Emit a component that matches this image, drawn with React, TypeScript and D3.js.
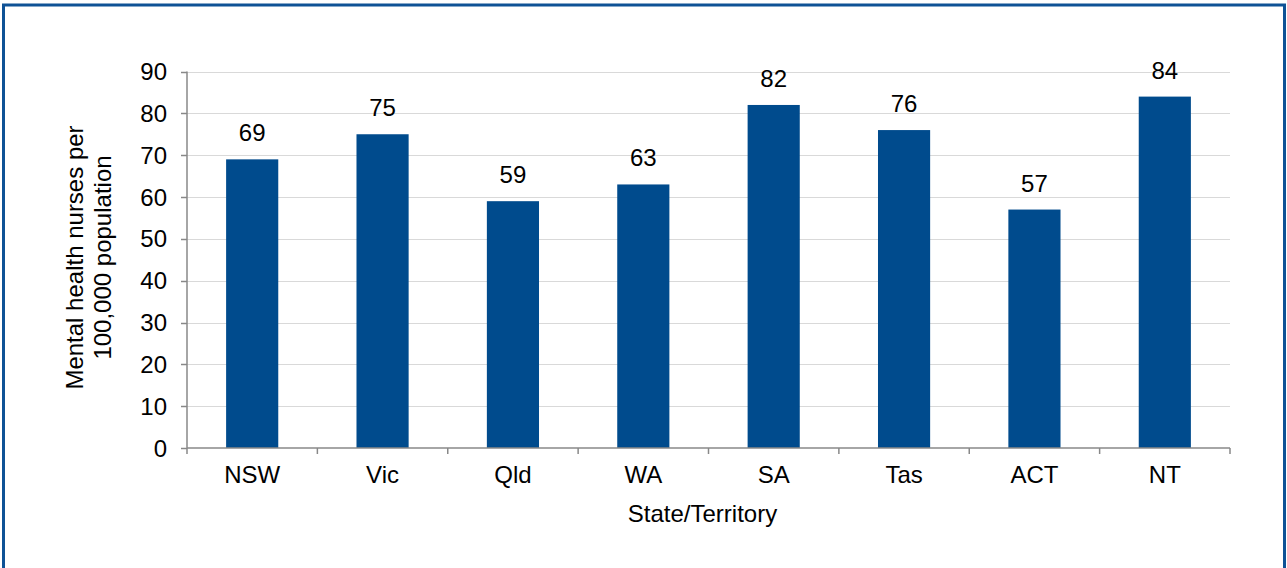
import React from "react";
import * as d3 from "d3";

const categories = ["NSW", "Vic", "Qld", "WA", "SA", "Tas", "ACT", "NT"];
const values = [69, 75, 59, 63, 82, 76, 57, 84];
const yTicks = [0, 10, 20, 30, 40, 50, 60, 70, 80, 90];
const yTitleLines = ["Mental health nurses per", "100,000 population"];
const xTitle = "State/Territory";

export default function App() {
  const W = 1287, H = 568;
  const left = 187, right = 1230, top = 71.5, bottom = 448;
  const x = d3.scaleBand<string>().domain(categories).range([left, right]).paddingInner(0).paddingOuter(0);
  const y = d3.scaleLinear().domain([0, 90]).range([bottom, top]);
  const bw = x.bandwidth() * 0.4;
  const font = "'Liberation Sans', Arial, sans-serif";
  const fs = 24;
  const boundaries = categories.map((c) => x(c) as number).concat([right]);

  return (
    <svg width={W} height={H} style={{ position: "absolute", left: 0, top: 0 }} fontFamily={font}>
      <rect x={0} y={0} width={W} height={H} fill="#fff" />
      {/* frame */}
      <path d={`M3.5,${H + 5} V5 H1284.5 V${H + 5}`} fill="none" stroke="#0E5296" strokeWidth={3} />
      {/* gridlines */}
      {yTicks.slice(1).map((t) => (
        <line key={t} x1={left} x2={right} y1={Math.round(y(t)) + 0.5} y2={Math.round(y(t)) + 0.5} stroke="#d9d9d9" strokeWidth={1.2} />
      ))}
      {/* bars */}
      {categories.map((c, i) => (
        <rect key={c} x={(x(c) as number) + (x.bandwidth() - bw) / 2} y={y(values[i])} width={bw} height={bottom - y(values[i])} fill="#004B8D" />
      ))}
      {/* value labels */}
      {categories.map((c, i) => (
        <text key={c} x={(x(c) as number) + x.bandwidth() / 2} y={y(values[i]) - 18} textAnchor="middle" fontSize={fs} fill="#000">
          {values[i]}
        </text>
      ))}
      {/* y axis */}
      <line x1={left} x2={left} y1={top} y2={bottom} stroke="#888" strokeWidth={1.5} />
      {yTicks.map((t) => (
        <g key={t}>
          <line x1={left - 6} x2={left} y1={Math.round(y(t)) + 0.5} y2={Math.round(y(t)) + 0.5} stroke="#888" strokeWidth={1.5} />
          <text x={left - 20} y={y(t)} dy="0.36em" textAnchor="end" fontSize={fs} fill="#000">{t}</text>
        </g>
      ))}
      {/* x axis */}
      <line x1={left} x2={right} y1={bottom} y2={bottom} stroke="#888" strokeWidth={1.5} />
      {boundaries.map((b, i) => (
        <line key={i} x1={b} x2={b} y1={bottom} y2={bottom + 6} stroke="#888" strokeWidth={1.5} />
      ))}
      {categories.map((c) => (
        <text key={c} x={(x(c) as number) + x.bandwidth() / 2} y={483} textAnchor="middle" fontSize={fs} fill="#000">{c}</text>
      ))}
      <text x={702.5} y={522} textAnchor="middle" fontSize={fs} fill="#000">{xTitle}</text>
      {yTitleLines.map((l, i) => (
        <text key={i} transform={`translate(${83 + i * 28},257.5) rotate(-90)`} textAnchor="middle" fontSize={fs} fill="#000">{l}</text>
      ))}
    </svg>
  );
}
